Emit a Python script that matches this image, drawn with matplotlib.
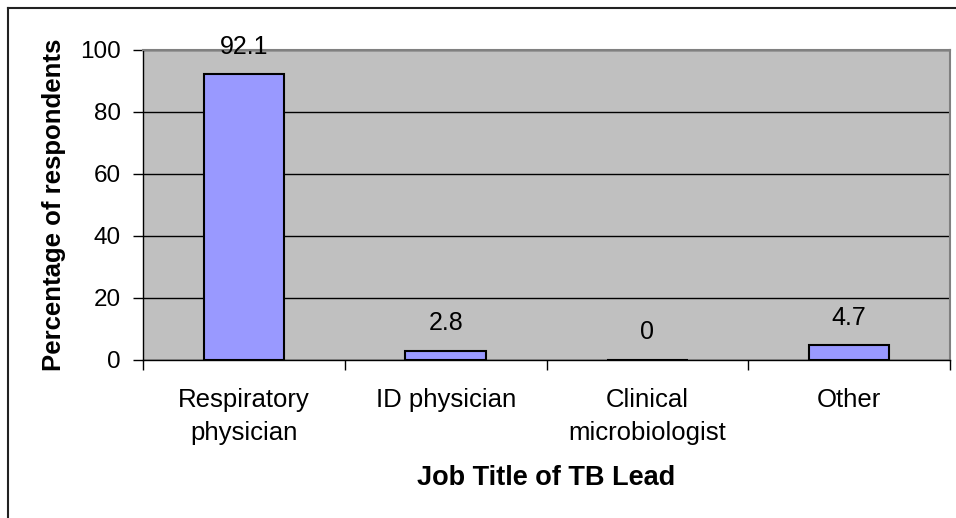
import matplotlib.pyplot as plt
from matplotlib.lines import Line2D
import numpy as np

plt.rcParams['font.family'] = ['Liberation Sans', 'DejaVu Sans']

categories = ['Respiratory\nphysician', 'ID physician', 'Clinical\nmicrobiologist', 'Other']
values = [92.1, 2.8, 0, 4.7]
value_labels = ['92.1', '2.8', '0', '4.7']
y_ticks = [0, 20, 40, 60, 80, 100]

W, H = 956, 518
fig = plt.figure(figsize=(W / 100, H / 100), dpi=100)
ax = fig.add_axes([143 / W, 1 - 360 / H, (950 - 143) / W, (360 - 50) / H])

ax.set_facecolor('#C0C0C0')
x = np.arange(len(categories))
ax.bar(x, values, width=0.4, color='#9999FF', edgecolor='black', linewidth=1.5, zorder=3)

for xi, v, lab in zip(x, values, value_labels):
    ax.annotate(lab, (xi, v), xytext=(0, 15), textcoords='offset points',
                ha='center', va='baseline', fontsize=18)

ax.set_xlim(-0.5, len(categories) - 0.5)
ax.set_ylim(0, 100)
ax.set_yticks(y_ticks)
ax.yaxis.grid(True, color='black', linewidth=1, zorder=1)
ax.set_axisbelow(True)

# category boundaries as major ticks, labels on minor ticks
ax.set_xticks(np.arange(-0.5, len(categories), 1.0))
ax.set_xticklabels([])
ax.set_xticks(x, minor=True)
ax.set_xticklabels(categories, minor=True, fontsize=18.5, linespacing=1.5)
ax.tick_params(axis='x', which='minor', length=0, pad=20)
ax.tick_params(axis='x', which='major', length=7, width=1, direction='out')
ax.tick_params(axis='y', length=7, width=1, pad=9, labelsize=17.5, direction='out')

for s in ['top', 'right']:
    ax.spines[s].set_color('#808080')
    ax.spines[s].set_linewidth(1.5)
for s in ['left', 'bottom']:
    ax.spines[s].set_color('black')
    ax.spines[s].set_linewidth(1)

ax.set_ylabel('Percentage of respondents', fontsize=18.5, fontweight='bold', labelpad=10)
ax.set_xlabel('Job Title of TB Lead', fontsize=19.5, fontweight='bold', labelpad=14)

# outer chart frame (cut off at right and bottom)
fig.add_artist(Line2D([8 / W, 1], [1 - 8 / H, 1 - 8 / H], color='#222222', linewidth=1.5))
fig.add_artist(Line2D([8 / W, 8 / W], [0, 1 - 8 / H], color='#222222', linewidth=1.5))

fig.savefig('out.png', dpi=100)
